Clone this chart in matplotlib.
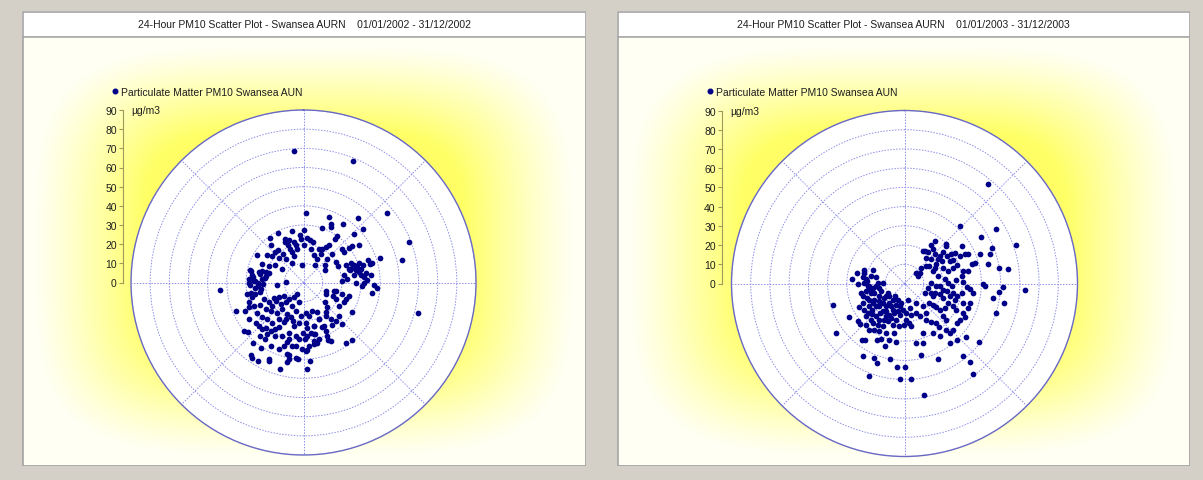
import numpy as np
import matplotlib.pyplot as plt
from matplotlib.patches import Rectangle

plt.rcParams['font.family'] = ['Liberation Sans', 'DejaVu Sans']

W, H = 1203, 481

titles = ["24-Hour PM10 Scatter Plot - Swansea AURN    01/01/2002 - 31/12/2002",
          "24-Hour PM10 Scatter Plot - Swansea AURN    01/01/2003 - 31/12/2003"]
series_name = "Particulate Matter PM10 Swansea AUN"
unit = "µg/m3"
r_ticks = [0, 10, 20, 30, 40, 50, 60, 70, 80, 90]

# wind direction (deg from north) and 24h PM10 (ug/m3)
dir_2002 = [356, 22, 50, 69, 77, 105, 265, 247, 2, 195, 178, 216, 214, 204, 192, 184, 213, 191, 177, 145, 140, 157, 155,
            240, 233, 237, 227, 222, 221, 206, 219, 221, 229, 235, 207, 195, 193, 185, 176, 171, 163, 155, 157, 166, 175,
            186, 196, 206, 209, 218, 225, 230, 237, 245, 226, 220, 214, 211, 202, 196, 188, 185, 178, 168, 165, 155, 155,
            146, 156, 167, 175, 181, 187, 194, 197, 200, 207, 214, 219, 220, 228, 231, 210, 204, 193, 191, 186, 178, 175,
            282, 270, 266, 280, 261, 259, 250, 278, 272, 283, 286, 286, 275, 257, 254,
            323, 319, 333, 347, 356, 357, 1, 5, 8, 13, 336, 338, 338, 322, 324, 317, 307, 301, 310, 315, 323, 340, 330,
            354, 302, 286, 281, 283, 272, 267, 270, 268, 276, 273, 264, 274, 259, 294, 296, 303, 12, 1, 349,
            19, 25, 26, 21, 34, 40, 48, 46, 36, 36, 32, 29, 25, 34, 49, 53, 53, 53, 56, 45, 45, 21, 33, 51, 58, 64, 68,
            73, 73, 77, 79, 83, 82, 71, 74, 74, 72, 84, 92, 94, 99, 61, 79, 85, 87, 90, 90, 93, 30, 31,
            117, 105, 114, 117, 106, 111, 123, 116, 106, 121, 132, 143, 143, 140, 146, 137, 157, 167, 157, 167, 170, 176,
            133, 136, 110, 104,
            243, 239, 236, 213, 208, 214, 206, 200, 192, 208, 215, 222, 230, 236, 244, 246, 247, 242, 177, 172, 170, 181,
            195, 190,
            67, 71, 74, 77, 74, 81, 71, 75, 85, 88, 337, 341, 347, 349, 340, 276, 264, 257, 256]
pm10_2002 = [68.8, 68.3, 56.6, 59.2, 52.5, 61.6, 43.8, 38.2, 36.5, 46.8, 44.9, 46.9, 47.8, 44.7, 42.2, 40.0, 40.5, 38.6,
             35.3, 38.5, 39.5, 32.7, 33.7,
             20.8, 20.3, 17.4, 16.4, 14.0, 11.5, 13.5, 17.8, 20.8, 22.6, 24.2, 18.5, 15.3, 10.6, 17.4, 15.7, 17.6, 15.5,
             17.2, 20.8, 23.3, 23.6, 21.0, 20.8, 23.2, 26.8, 26.5, 26.9, 28.2, 28.8, 28.6, 32.5, 30.7, 30.5, 28.4, 30.0,
             27.2, 28.1, 29.7, 29.6, 27.5, 30.7, 27.8, 25.0, 20.9, 30.5, 32.2, 33.2, 34.8, 33.3, 30.5, 34.6, 37.1, 37.3,
             35.6, 35.7, 41.2, 38.7, 40.1, 47.1, 43.9, 38.4, 40.8, 39.4, 35.7, 41.1,
             28.2, 28.5, 24.0, 20.0, 22.6, 28.0, 30.0, 27.0, 25.9, 23.9, 22.4, 18.8, 21.6, 25.8, 27.9,
             29.3, 26.2, 29.0, 27.4, 25.0, 22.9, 27.4, 23.3, 22.6, 21.7, 23.1, 21.0, 18.7, 21.2, 18.3, 21.6, 23.7, 28.0,
             21.4, 18.1, 15.1, 14.7, 11.9, 9.3, 17.6, 20.3, 23.0, 28.8, 25.5, 27.8, 23.9, 21.3, 20.0, 9.4, 13.9, 28.7,
             30.1, 23.8, 20.2, 13.3, 18.0, 19.4, 17.9,
             29.8, 33.8, 32.3, 36.7, 37.1, 44.1, 41.7, 36.4, 30.0, 28.3, 21.8, 20.2, 19.4, 23.5, 26.6, 26.4, 32.0, 29.6,
             35.0, 21.2, 17.5, 15.1, 11.0, 14.1, 19.8, 20.2, 23.7, 24.8, 26.7, 27.9, 29.5, 30.1, 26.6, 35.8, 37.0, 35.9,
             41.8, 35.3, 36.9, 38.6, 36.0, 13.1, 21.5, 22.9, 19.9, 27.2, 31.6, 30.4, 14.3, 17.5,
             13.0, 16.4, 16.8, 18.8, 21.1, 23.6, 22.1, 23.5, 24.7, 29.8, 15.4, 19.3, 23.7, 26.0, 27.0, 29.6, 20.6, 23.2,
             25.3, 27.6, 32.6, 27.8, 25.3, 17.9, 12.3, 17.3,
             17.3, 15.0, 12.3, 9.2, 6.8, 23.0, 21.3, 19.4, 23.1, 31.4, 33.0, 32.5, 32.6, 34.3, 33.7, 31.4, 22.4, 25.5,
             20.9, 26.4, 30.9, 26.1, 32.4, 33.6,
             26.7, 27.9, 29.2, 30.6, 32.3, 32.9, 30.6, 24.9, 31.7, 33.4, 24.9, 23.3, 21.7, 19.8, 16.9, 26.7, 25.2, 23.1,
             27.7]

# same for 2003
dir_2003 = [40, 44, 59, 71, 59, 68, 71, 77, 81, 82, 93, 92, 95, 99, 101, 108, 90, 92, 128, 141, 140, 143, 170, 176, 183,
            180, 185, 201, 210, 202, 199, 191, 234, 253, 275, 270,
            285, 279, 283, 293, 276, 266, 259, 254, 265, 260, 272, 242, 245, 237, 231, 228, 235, 230, 216, 202, 192, 184,
            199, 209, 215, 219, 223, 228, 217, 208, 200, 192, 187, 177, 173, 168, 168, 253, 243, 283, 288, 282, 206, 215,
            197, 188, 239, 231, 217,
            243, 228, 219, 218, 204, 218, 231, 226, 220, 204, 193, 196, 207, 213, 223, 230, 237, 253, 266, 271, 249,
            30, 40, 55, 40, 46, 54, 59, 52, 51, 48, 58, 64, 59, 64, 57, 64, 65, 74, 74, 79, 78, 72, 74, 68, 78, 67, 51,
            47, 55, 61,
            95, 107, 114, 94, 99, 100, 93, 101, 104, 89, 93, 95, 98, 99, 108, 107, 111, 117, 117, 115, 114, 121, 127, 126,
            127, 128, 115,
            141, 149, 158, 155, 144, 149, 145, 141, 141, 138, 138, 134, 127, 123, 119, 131, 130, 160, 150, 146, 143, 137,
            131, 167, 156, 163, 169,
            36, 47, 35, 48, 33, 69, 86, 83,
            274, 261, 262, 271, 252, 234, 241, 211, 218, 203, 190, 178, 168, 189, 206, 209, 221, 231, 245, 258, 239, 235,
            214, 201, 194, 181, 171, 213, 203, 195,
            37, 48, 62, 59, 57, 64, 70, 84, 89, 107, 111, 106, 108, 89, 101, 109]
pm10_2003 = [67.4, 41.8, 55.5, 61.4, 46.6, 49.1, 47.0, 44.4, 50.0, 54.6, 62.6, 51.5, 49.1, 46.8, 52.5, 49.8, 41.0, 41.9,
             49.5, 48.3, 53.0, 59.1, 59.1, 49.7, 49.5, 43.6, 43.8, 51.6, 43.4, 42.0, 43.5, 39.8, 44.1, 38.7, 27.5, 24.4,
             21.8, 22.1, 15.2, 18.0, 20.2, 19.2, 20.5, 18.1, 14.9, 13.3, 11.3, 17.8, 20.1, 25.0, 21.5, 17.7, 11.7, 10.3,
             10.4, 11.8, 12.2, 13.6, 16.2, 19.6, 22.9, 26.4, 29.4, 31.5, 30.3, 28.2, 27.6, 26.4, 22.5, 18.9, 20.8, 16.6,
             13.0, 22.8, 26.4, 25.1, 22.4, 17.9, 32.7, 35.7, 33.9, 30.5, 33.7, 31.4, 36.5,
             14.7, 15.2, 15.3, 12.8, 14.9, 18.4, 19.0, 23.2, 20.2, 21.6, 19.4, 22.3, 25.1, 25.6, 25.7, 26.4, 21.8, 16.5,
             18.4, 20.9, 21.1,
             19.5, 17.6, 15.6, 23.2, 21.8, 21.5, 19.3, 23.2, 25.7, 29.3, 28.8, 28.3, 30.7, 32.2, 35.5, 34.9, 36.5, 36.3,
             38.2, 33.8, 31.2, 26.6, 23.6, 21.7, 17.9, 16.2, 14.5, 12.0, 9.6, 8.0,
             16.6, 16.5, 16.2, 18.4, 20.3, 22.2, 24.5, 25.8, 27.9, 30.5, 32.3, 34.2, 36.1, 30.1, 32.2, 35.5, 35.5, 33.9,
             30.3, 28.0, 24.8, 24.5, 22.8, 20.4, 18.5, 16.5, 11.6,
             15.3, 11.8, 16.5, 18.8, 19.1, 22.0, 24.2, 26.4, 28.9, 32.5, 35.0, 34.9, 34.0, 34.4, 35.8, 28.8, 26.4, 27.6,
             29.8, 33.1, 39.0, 39.9, 42.5, 38.2, 43.1, 32.5, 31.7,
             27.4, 29.8, 24.3, 8.3, 19.9, 42.1, 27.1, 29.9,
             19.8, 18.9, 16.7, 14.0, 12.9, 12.9, 10.0, 13.8, 8.4, 9.1, 10.3, 15.4, 8.6, 16.4, 18.0, 21.6, 22.6, 24.2,
             24.0, 23.2, 19.4, 16.0, 17.4, 19.3, 14.9, 21.5, 22.6, 28.8, 31.4, 30.3,
             20.2, 18.8, 17.7, 22.5, 26.1, 26.3, 28.8, 21.0, 22.7, 19.2, 21.4, 24.5, 27.5, 14.0, 12.4, 14.8]

directions = [dir_2002, dir_2003]
values = [pm10_2002, pm10_2003]

fig = plt.figure(figsize=(W / 100, H / 100), dpi=100, facecolor='#d4d0c8')


def fbox(x0, y0, x1, y1):
    # pixel box (top-left origin) -> figure fraction
    return [x0 / W, 1 - y1 / H, (x1 - x0) / W, (y1 - y0) / H]


layout = [dict(frame=(22, 12, 586, 467), centre=(303.5, 283.5), rad=172.5, axis_x=123, leg_x=115),
          dict(frame=(617, 12, 1190, 467), centre=(904.5, 284.5), rad=173.0, axis_x=722, leg_x=710)]

# soft yellow glow behind the dial
gy, gx = np.mgrid[-1:1:200j, -1:1:300j]
t = (np.abs(gx) ** 4 + np.abs(gy) ** 4) ** 0.25
s = np.clip((0.97 - t) / 0.4, 0, 1) ** 1.2
glow = np.dstack([np.ones_like(s), np.ones_like(s), 0.96 - 0.56 * s])

navy = '#000088'
txt = '#1e1e1e'

for i in range(2):
    p = layout[i]
    x0, y0, x1, y1 = p['frame']
    cx, cy = p['centre']
    rad = p['rad']

    bg = fig.add_axes(fbox(x0, y0, x1, y1))
    bg.imshow(glow, extent=(x0 + 1, x1 - 1, y1 - 1, 38), aspect='auto', origin='upper', zorder=0)
    bg.add_patch(Rectangle((x0, y0), x1 - x0, 25, fc='white', ec='none', zorder=1))
    bg.add_patch(Rectangle((x0 + 0.5, y0 + 0.5), x1 - x0 - 1, y1 - y0 - 1, fc='none', ec='#a4a4a4', lw=1.2, zorder=2))
    bg.plot([x0, x1], [37.5, 37.5], color='#a8a8a8', lw=1.2, zorder=2)
    bg.set_xlim(x0, x1)
    bg.set_ylim(y1, y0)
    bg.axis('off')

    bg.text((x0 + x1) / 2, 25, titles[i], ha='center', va='center', fontsize=7.5, color=txt)
    bg.plot(p['leg_x'], 92, 'o', ms=3.3, color=navy)
    bg.text(p['leg_x'] + 6, 92.5, series_name, ha='left', va='center', fontsize=7.5, color=txt)
    bg.text(p['axis_x'] + 8, cy - rad, unit, ha='left', va='center', fontsize=7.5, color=txt)

    pax = fig.add_axes(fbox(cx - rad, cy - rad, cx + rad, cy + rad), projection='polar')
    pax.set_facecolor('white')
    pax.set_theta_zero_location('N')
    pax.set_theta_direction(-1)
    pax.set_ylim(0, 90)
    pax.set_yticks(r_ticks[1:])
    pax.set_yticklabels([])
    pax.set_xticks(np.deg2rad(np.arange(0, 360, 45)))
    pax.set_xticklabels([])
    pax.grid(True, color='#8c8ce8', linestyle=(0, (1.5, 1.5)), linewidth=0.7)
    pax.spines['polar'].set_color('#6a6ac4')
    pax.spines['polar'].set_linewidth(1.0)
    pax.scatter(np.deg2rad(directions[i]), values[i], s=17, color=navy, linewidths=0, zorder=3)

    sax = fig.add_axes(fbox(p['axis_x'], cy - rad, p['axis_x'] + 1, cy))
    sax.patch.set_visible(False)
    sax.set_ylim(0, 90)
    sax.set_yticks(r_ticks)
    sax.set_xticks([])
    for side in ['right', 'top', 'bottom']:
        sax.spines[side].set_visible(False)
    sax.spines['left'].set_color('#a09a5a')
    sax.tick_params(axis='y', length=3, pad=1.5, labelsize=7.5, color='#a09a5a', labelcolor=txt)

fig.savefig('out.png', dpi=100, facecolor=fig.get_facecolor())
